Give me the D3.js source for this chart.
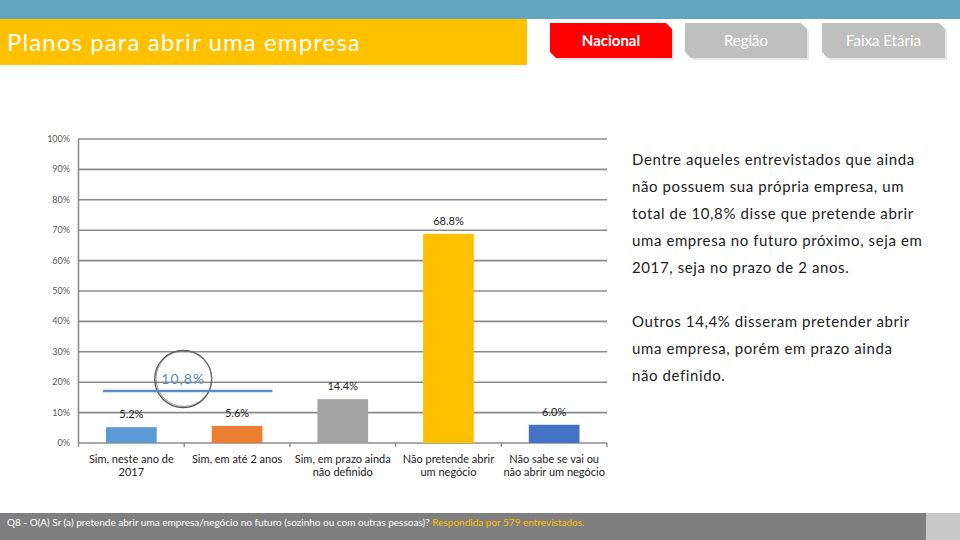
<!DOCTYPE html>
<html><head><meta charset="utf-8">
<script src="https://cdn.jsdelivr.net/npm/d3@7"></script>
<style>
html,body{margin:0;padding:0;background:#fff;}
svg{display:block;font-family:Lato,"Open Sans",sans-serif;}
</style></head>
<body>
<svg id="c" width="960" height="540"></svg>
<script>
const categories = [
  ["Sim, neste ano de", "2017"],
  ["Sim, em até 2 anos"],
  ["Sim, em prazo ainda", "não definido"],
  ["Não pretende abrir", "um negócio"],
  ["Não sabe se vai ou", "não abrir um negócio"]
];
const values = [5.2, 5.6, 14.4, 68.8, 6.0];
const valueLabels = ["5.2%", "5.6%", "14.4%", "68.8%", "6.0%"];
const yTicks = [0, 10, 20, 30, 40, 50, 60, 70, 80, 90, 100];
const annotationValue = "10,8%";
const annotationLevel = 17.1;
const tabs = ["Nacional", "Região", "Faixa Etária"];
const title = "Planos para abrir uma empresa";
const sideText1 = ["Dentre aqueles entrevistados que ainda", "não possuem sua própria empresa, um", "total de 10,8% disse que pretende abrir", "uma empresa no futuro próximo, seja em", "2017, seja no prazo de 2 anos."];
const sideText2 = ["Outros 14,4% disseram pretender abrir", "uma empresa, porém em prazo ainda", "não definido."];
const footerQ = "Q8 - O(A) Sr (a) pretende abrir uma empresa/negócio no futuro (sozinho ou com outras pessoas)? ";
const footerR = "Respondida por 579 entrevistados.";

const palette = ["#5b9bd5", "#ed7d31", "#a5a5a5", "#ffc000", "#4472c4"];

const svg = d3.select("#c");

// header
svg.append("rect").attr("x",0).attr("y",0).attr("width",960).attr("height",19).attr("fill","#64a5c2");
svg.append("rect").attr("x",0).attr("y",19).attr("width",527).attr("height",46).attr("fill","#ffc000");
svg.append("text").attr("x",7).attr("y",51).attr("fill","#fff").attr("font-size",24)
  .attr("letter-spacing",1.1).text(title);

const tabX = [550, 685, 822], tabW = [122, 122, 123];
tabs.forEach((t,i)=>{
  const x=tabX[i], y=23, w=tabW[i], h=35, c=6;
  const pts = (dx,dy)=>[[x+dx,y+dy],[x+w-c+dx,y+dy],[x+w+dx,y+c+dy],[x+w+dx,y+h+dy],[x+c+dx,y+h+dy],[x+dx,y+h-c+dy]];
  svg.append("polygon").attr("points",pts(2,2).join(" ")).attr("fill","#e6e6e6");
  svg.append("polygon").attr("points",pts(0,0).join(" ")).attr("fill", i===0?"#ff0000":"#bfbfbf");
  svg.append("text").attr("x",x+w/2).attr("y",y+h/2+5).attr("text-anchor","middle")
    .attr("fill","#fff").attr("font-size",15).attr("font-weight", i===0?"bold":"normal").text(t);
});

// chart
const x = d3.scaleBand().domain(d3.range(values.length)).range([78.5, 607]).paddingInner(0.52).paddingOuter(0.26);
const y = d3.scaleLinear().domain([0,100]).range([443,139]);

const grid = svg.append("g");
yTicks.forEach(t=>{
  grid.append("line").attr("x1",78).attr("x2",607).attr("y1",y(t)).attr("y2",y(t))
    .attr("stroke","#8c8c8c").attr("stroke-width",1.6);
  svg.append("text").attr("x",70).attr("y",y(t)+3).attr("text-anchor","end")
    .attr("font-size",9).attr("fill","#595959").text(t+"%");
});
svg.append("line").attr("x1",78.5).attr("x2",78.5).attr("y1",139).attr("y2",443).attr("stroke","#8c8c8c").attr("stroke-width",1.6);
for(let i=0;i<=values.length;i++){
  const tx = 78.5 + i*(607-78.5)/values.length;
  svg.append("line").attr("x1",tx).attr("x2",tx).attr("y1",443).attr("y2",447).attr("stroke","#8c8c8c").attr("stroke-width",1.4);
}

svg.selectAll("rect.bar").data(values).enter().append("rect").attr("class","bar")
  .attr("x",(d,i)=>x(i)).attr("width",x.bandwidth())
  .attr("y",d=>y(d)).attr("height",d=>443-y(d)).attr("fill",(d,i)=>palette[i]);

svg.selectAll("text.vl").data(values).enter().append("text").attr("class","vl")
  .attr("x",(d,i)=>x(i)+x.bandwidth()/2).attr("y",d=>y(d)-9)
  .attr("text-anchor","middle").attr("font-size",11).attr("fill","#222").text((d,i)=>valueLabels[i]);

categories.forEach((lines,i)=>{
  const cx = x(i)+x.bandwidth()/2;
  lines.forEach((l,j)=>{
    svg.append("text").attr("x",cx).attr("y",463+j*13).attr("text-anchor","middle")
      .attr("font-size",11).attr("fill","#222").text(l);
  });
});

// annotation
const ly = y(annotationLevel);
const cxA = (x(0)+x.bandwidth()+x(1))/2 - 1, cyA = ly - 12;
svg.append("circle").attr("cx",cxA).attr("cy",cyA).attr("r",28.5).attr("fill","none").attr("stroke","#555").attr("stroke-width",1.3);
svg.append("circle").attr("cx",cxA+0.6).attr("cy",cyA-0.4).attr("r",27.8).attr("fill","none").attr("stroke","#777").attr("stroke-width",0.8);
svg.append("text").attr("x",cxA).attr("y",cyA+5).attr("text-anchor","middle").attr("font-size",14)
  .attr("letter-spacing",1).attr("fill","#5f8bb8").text(annotationValue);
svg.append("line").attr("x1",x(0)-3).attr("x2",x(1)+x.bandwidth()+10).attr("y1",ly).attr("y2",ly)
  .attr("stroke","#5b8ec4").attr("stroke-width",2.5);

// side text
sideText1.forEach((l,i)=>svg.append("text").attr("x",632).attr("y",165+i*27).attr("font-size",15).attr("letter-spacing",0.6).attr("fill","#222").text(l));
sideText2.forEach((l,i)=>svg.append("text").attr("x",632).attr("y",327+i*27).attr("font-size",15).attr("letter-spacing",0.6).attr("fill","#222").text(l));

// footer
svg.append("rect").attr("x",0).attr("y",513).attr("width",926).attr("height",27).attr("fill","#7f7f7f");
svg.append("rect").attr("x",926).attr("y",513).attr("width",34).attr("height",27).attr("fill","#c9c9c9");
const ft = svg.append("text").attr("x",7).attr("y",526).attr("font-size",10).attr("fill","#fff");
ft.append("tspan").text(footerQ);
ft.append("tspan").attr("fill","#ffc000").text(footerR);
</script>
</body></html>
